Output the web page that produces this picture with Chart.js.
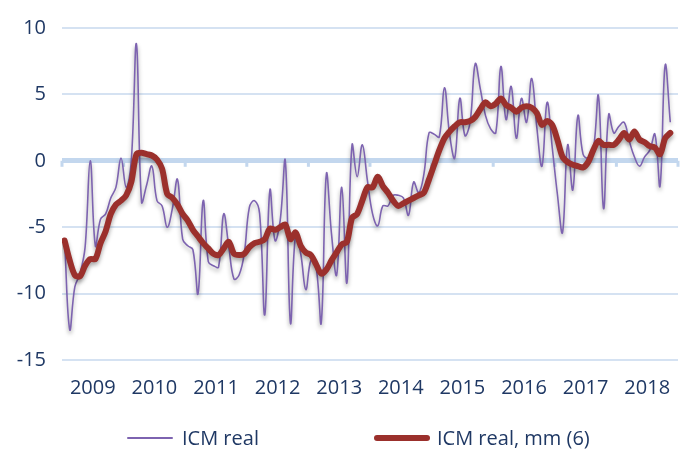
<!DOCTYPE html>
<html>
<head>
<meta charset="utf-8">
<script src="https://cdn.jsdelivr.net/npm/chart.js@4.4.1/dist/chart.umd.min.js"></script>
<style>
  body { margin: 0; background: #fff; }
  #wrap { position: relative; width: 681px; height: 453px; }
  #legend { position: absolute; left: 0; top: 424px; width: 681px; height: 28px;
            font-family: "Open Sans", sans-serif; font-size: 20px; color: #1f3864; }
  .item { position: absolute; top: 0; line-height: 28px; white-space: nowrap; }
  .swatch { position: absolute; top: 13px; border-radius: 3px; }
</style>
</head>
<body>
<div id="wrap">
  <canvas id="chart" width="681" height="453"></canvas>
  <div id="legend">
    <div class="swatch" style="left:127px;width:46px;height:2px;background:#7d63b0"></div>
    <div class="item" style="left:182px">ICM real</div>
    <div class="swatch" style="left:374px;top:11px;width:56px;height:6px;background:#9b302c"></div>
    <div class="item" style="left:437px">ICM real, mm (6)</div>
  </div>
</div>
<script>
// monthly values, Jan 2009 onwards
var years = ['2009', '2010', '2011', '2012', '2013', '2014', '2015', '2016', '2017', '2018'];

var icm_real = [
	-6.0, -12.7, -9.5, -8.5, -6.5, 0.0, -6.4, -4.4, -4.0, -2.8, -2.0, 0.2,
	-2.0, 0.0, 8.8, -3.1, -1.8, -0.4, -3.0, -3.4, -5.0, -3.6, -1.4, -5.9,
	-6.4, -6.7, -10.0, -3.0, -7.6, -7.9, -8.0, -4.0, -6.5, -8.9, -8.6, -7.0,
	-3.5, -3.0, -4.0, -11.6, -2.2, -6.0, -4.5, 0.0, -12.2, -5.6, -7.0, -9.7,
	-7.5, -8.0, -12.2, -1.0, -5.5, -8.6, -2.0, -9.2, 1.2, -1.2, 1.2, -1.5,
	-4.0, -4.9, -3.4, -3.4, -2.6, -2.6, -2.8, -4.1, -1.6, -2.4, -1.0, 2.1,
	2.0, 1.8, 5.5, 2.0, 0.2, 4.7, 1.9, 2.9, 7.3, 5.4, 3.4, 2.4,
	2.1, 7.1, 3.1, 5.6, 1.7, 4.7, 2.9, 6.2, 2.5, -0.4, 4.4, 1.0,
	-2.5, -5.4, 1.2, -2.2, 3.4, 0.5, 0.2, 0.8, 4.9, -3.6, 3.5, 2.1,
	2.6, 2.9, 1.5, 0.3, -0.4, 0.3, 0.8, 2.0, -1.9, 7.2, 2.9
];

var icm_real_mm6 = [
	-6.0, -7.5, -8.6, -8.7, -7.9, -7.4, -7.4, -6.2, -5.3, -4.0, -3.3, -3.0,
	-2.6, -1.6, 0.5, 0.6, 0.5, 0.4, 0.1, -0.6, -2.5, -2.8, -3.3, -4.0,
	-4.5, -5.2, -5.7, -6.2, -6.6, -7.0, -7.1, -6.6, -6.1, -7.0, -7.1, -7.0,
	-6.5, -6.2, -6.1, -5.9, -5.1, -5.2, -5.0, -4.8, -5.9, -5.4, -6.4, -6.9,
	-7.1, -7.8, -8.5, -8.2, -7.5, -6.9, -6.3, -6.1, -4.3, -4.0, -3.0, -2.0,
	-2.0, -1.2, -1.9, -2.4, -3.0, -3.4, -3.2, -3.0, -2.8, -2.6, -2.4, -1.4,
	-0.3, 0.8, 1.7, 2.2, 2.6, 2.9, 2.9, 3.0, 3.3, 3.9, 4.4, 4.1,
	4.3, 4.7, 4.2, 4.0, 3.7, 4.0, 4.1, 4.0, 3.6, 2.7, 3.0, 2.7,
	1.6, 0.3, -0.1, -0.3, -0.4, -0.5, -0.1, 0.8, 1.5, 1.2, 1.2, 1.2,
	1.6, 2.1, 1.6, 2.2, 1.6, 1.4, 1.1, 1.0, 0.5, 1.7, 2.1
];

var text_color = '#1f3864';
var grid_color = '#d5e2f2';
var zero_color = '#c3d7ee';

function to_points(values) {
	return values.map(function(v, i) { return {x: i, y: v}; });
}

// soft drop shadow under the lines, like the excel original
var shadow_plugin = {
	id: 'shadow',
	beforeDatasetDraw: function(chart) {
		var ctx = chart.ctx;
		ctx.save();
		ctx.shadowColor = 'rgba(0,0,0,0.35)';
		ctx.shadowBlur = 4;
		ctx.shadowOffsetY = 3;
	},
	afterDatasetDraw: function(chart) {
		chart.ctx.restore();
	}
};

// little tick marks hanging off the zero line at the year boundaries
var year_ticks_plugin = {
	id: 'yearTicks',
	beforeDatasetsDraw: function(chart) {
		var ctx = chart.ctx;
		var x = chart.scales.x, y = chart.scales.y;
		var y0 = y.getPixelForValue(0);
		ctx.save();
		ctx.strokeStyle = zero_color;
		ctx.lineWidth = 3;
		for (var k = 0; k <= years.length; k++) {
			var px = x.getPixelForValue(12 * k - 0.5);
			ctx.beginPath();
			ctx.moveTo(px, y0);
			ctx.lineTo(px, y0 + 6);
			ctx.stroke();
		}
		ctx.restore();
	}
};

new Chart(document.getElementById('chart'), {
	type: 'line',
	data: {
		datasets: [{
			label: 'ICM real',
			data: to_points(icm_real),
			borderColor: '#7d63b0',
			borderWidth: 1.6,
			pointRadius: 0,
			tension: 0.4,
			order: 2
		}, {
			label: 'ICM real, mm (6)',
			data: to_points(icm_real_mm6),
			borderColor: '#9b302c',
			borderWidth: 6,
			borderCapStyle: 'round',
			borderJoinStyle: 'round',
			pointRadius: 0,
			tension: 0.3,
			order: 1
		}]
	},
	options: {
		responsive: false,
		animation: false,
		layout: {
			padding: {top: 25, left: 17, right: 3, bottom: 48}
		},
		plugins: {
			legend: {display: false},
			tooltip: {enabled: false}
		},
		scales: {
			x: {
				type: 'linear',
				min: -0.5,
				max: 119.5,
				grid: {display: false},
				border: {display: false},
				afterBuildTicks: function(scale) {
					scale.ticks = years.map(function(y, k) { return {value: 12 * k + 5.5}; });
				},
				afterFit: function(scale) { scale.height = 45; },
				ticks: {
					autoSkip: false,
					maxRotation: 0,
					padding: 8,
					color: text_color,
					font: {family: 'Open Sans', size: 20},
					callback: function(value, index) { return years[index]; }
				}
			},
			y: {
				min: -15,
				max: 10,
				border: {display: false},
				afterFit: function(scale) { scale.width = 45; },
				grid: {
					drawTicks: false,
					color: function(c) { return c.tick.value === 0 ? zero_color : grid_color; },
					lineWidth: function(c) { return c.tick.value === 0 ? 5 : 2; }
				},
				ticks: {
					stepSize: 5,
					padding: 16,
					color: text_color,
					font: {family: 'Open Sans', size: 20}
				}
			}
		}
	},
	plugins: [shadow_plugin, year_ticks_plugin]
});
</script>
</body>
</html>
